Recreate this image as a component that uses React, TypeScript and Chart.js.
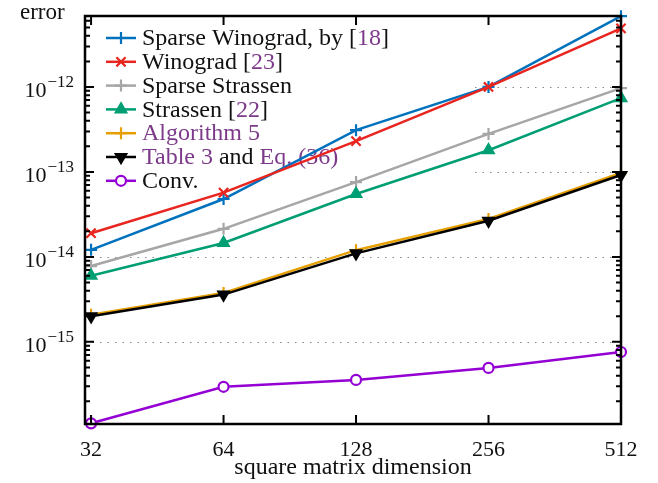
import { useEffect, useRef } from 'react';
import { Chart, registerables } from 'chart.js';
import { drawPoint } from 'chart.js/helpers';

Chart.register(...registerables);

const dims = [32, 64, 128, 256, 512];
const sparseWinograd = [1.21e-14, 4.8e-14, 3.1e-13, 1.0e-12, 6.8e-12];
const winograd = [1.9e-14, 5.7e-14, 2.3e-13, 1.0e-12, 4.9e-12];
const sparseStrassen = [7.8e-15, 2.14e-14, 7.6e-14, 2.8e-13, 9.7e-13];
const strassen = [6.0e-15, 1.46e-14, 5.5e-14, 1.8e-13, 7.4e-13];
const algorithm5 = [2.08e-15, 3.77e-15, 1.2e-14, 2.8e-14, 9.7e-14];
const table3 = [2.0e-15, 3.6e-15, 1.1e-14, 2.66e-14, 9.2e-14];
const conv = [1.1e-16, 2.96e-16, 3.57e-16, 4.94e-16, 7.6e-16];
const yTickExps = [-12, -13, -14, -15];

const BLACK = '#111111';
const CITE = '#7d3a8a';

type Seg = { t: string; c: string };
const legendLabels: Seg[][] = [
  [{ t: 'Sparse Winograd, by ', c: BLACK }, { t: '[', c: BLACK }, { t: '18', c: CITE }, { t: ']', c: BLACK }],
  [{ t: 'Winograd ', c: BLACK }, { t: '[', c: BLACK }, { t: '23', c: CITE }, { t: ']', c: BLACK }],
  [{ t: 'Sparse Strassen', c: BLACK }],
  [{ t: 'Strassen ', c: BLACK }, { t: '[', c: BLACK }, { t: '22', c: CITE }, { t: ']', c: BLACK }],
  [{ t: 'Algorithm 5', c: CITE }],
  [{ t: 'Table 3', c: CITE }, { t: ' and ', c: BLACK }, { t: 'Eq. (36)', c: CITE }],
  [{ t: 'Conv.', c: BLACK }],
];

const FONT = "'Liberation Serif', serif";

type S = { data: number[]; color: string; style: string; radius: number; rotation?: number; fill?: string };
const series: S[] = [
  { data: sparseWinograd, color: '#0072bd', style: 'cross', radius: 6 },
  { data: winograd, color: '#e8251f', style: 'crossRot', radius: 6.5 },
  { data: sparseStrassen, color: '#a6a6a6', style: 'cross', radius: 6 },
  { data: strassen, color: '#009e73', style: 'triangle', radius: 6 },
  { data: algorithm5, color: '#e69f00', style: 'cross', radius: 6 },
  { data: table3, color: '#000000', style: 'triangle', radius: 6, rotation: 180 },
  { data: conv, color: '#9400d3', style: 'circle', radius: 5, fill: '#ffffff' },
];

export default function App() {
  const ref = useRef<HTMLCanvasElement | null>(null);
  useEffect(() => {
    if (!ref.current) return;
    const N = series.length;
    const chart = new Chart(ref.current, {
      type: 'line',
      data: {
        labels: dims,
        datasets: series.map((s, i) => ({
          label: legendLabels[i].map((g) => g.t).join(''),
          data: dims.map((d, j) => ({ x: d, y: s.data[j] })),
          borderColor: s.color,
          backgroundColor: s.fill ?? s.color,
          pointBorderColor: s.color,
          pointBackgroundColor: s.fill ?? s.color,
          pointStyle: s.style as any,
          pointRadius: s.radius,
          pointRotation: s.rotation ?? 0,
          pointBorderWidth: 2.2,
          borderWidth: 2.5,
          tension: 0,
          clip: 8,
          order: N - i,
        })),
      },
      options: {
        animation: false,
        responsive: false,
        devicePixelRatio: 1,
        layout: { padding: { top: 16, right: 37, left: 0, bottom: 0 } },
        plugins: { legend: { display: false }, tooltip: { enabled: false } },
        scales: {
          x: {
            type: 'logarithmic',
            min: 31,
            max: 512,
            afterBuildTicks: (sc: any) => {
              sc.ticks = dims.map((v) => ({ value: v }));
            },
            afterFit: (sc: any) => {
              sc.height = 59;
            },
            ticks: {
              autoSkip: false,
              maxRotation: 0,
              padding: 5,
              color: BLACK,
              font: { family: FONT, size: 22 },
              callback: (v: any) => String(v),
            },
            grid: { display: false },
            border: { display: false },
            title: {
              display: true,
              text: 'square matrix dimension',
              color: BLACK,
              font: { family: FONT, size: 24 },
              padding: { top: 0, bottom: 1 },
            },
          },
          y: {
            type: 'logarithmic',
            min: 1.08e-16,
            max: 6.84e-12,
            afterFit: (sc: any) => {
              sc.width = 85;
            },
            ticks: { display: false },
            grid: { display: false },
            border: { display: false },
          },
        },
      },
      plugins: [
        {
          id: 'decor',
          beforeDatasetsDraw(c: any) {
            const ctx = c.ctx as CanvasRenderingContext2D;
            const { left, right, top } = c.chartArea;
            const ys = c.scales.y;
            ctx.save();
            ctx.strokeStyle = '#888888';
            ctx.lineWidth = 1;
            ctx.setLineDash([1.5, 6]);
            for (const e of yTickExps) {
              const y = Math.round(ys.getPixelForValue(10 ** e)) + 0.5;
              ctx.beginPath();
              ctx.moveTo(left, y);
              ctx.lineTo(right, y);
              ctx.stroke();
            }
            ctx.restore();
            ctx.save();
            ctx.fillStyle = '#ffffff';
            ctx.fillRect(left + 2, top + 2, 472 - left, 192 - top);
            ctx.font = `24px ${FONT}`;
            ctx.textBaseline = 'middle';
            series.forEach((s, i) => {
              const y = 38 + i * 23.8;
              ctx.strokeStyle = s.color;
              ctx.lineWidth = 2.5;
              ctx.beginPath();
              ctx.moveTo(106, y);
              ctx.lineTo(136, y);
              ctx.stroke();
              ctx.fillStyle = s.fill ?? s.color;
              ctx.lineWidth = 2.2;
              drawPoint(ctx, { pointStyle: s.style as any, radius: s.radius, rotation: s.rotation ?? 0, borderWidth: 2.2 } as any, 121, y);
              let x = 142;
              for (const g of legendLabels[i]) {
                ctx.fillStyle = g.c;
                ctx.fillText(g.t, x, y + 1);
                x += ctx.measureText(g.t).width;
              }
            });
            ctx.restore();
          },
          afterDatasetsDraw(c: any) {
            const ctx = c.ctx as CanvasRenderingContext2D;
            const { left, right, top, bottom } = c.chartArea;
            const xs = c.scales.x;
            const ys = c.scales.y;
            ctx.save();
            ctx.strokeStyle = '#000000';
            ctx.lineWidth = 2.5;
            ctx.strokeRect(left, top, right - left, bottom - top);
            ctx.lineWidth = 2;
            ctx.beginPath();
            for (const d of dims) {
              const x = xs.getPixelForValue(d);
              ctx.moveTo(x, bottom);
              ctx.lineTo(x, bottom - 9);
              ctx.moveTo(x, top);
              ctx.lineTo(x, top + 9);
            }
            for (let e = -17; e <= -11; e++) {
              for (let m = 1; m <= 9; m++) {
                const v = m * 10 ** e;
                if (v < ys.min || v > ys.max) continue;
                const y = ys.getPixelForValue(v);
                const len = m === 1 ? 9 : 5;
                ctx.moveTo(left, y);
                ctx.lineTo(left + len, y);
                ctx.moveTo(right, y);
                ctx.lineTo(right - len, y);
              }
            }
            ctx.stroke();
            ctx.restore();
          },
          afterDraw(c: any) {
            const ctx = c.ctx as CanvasRenderingContext2D;
            const ys = c.scales.y;
            ctx.save();
            ctx.fillStyle = BLACK;
            ctx.textBaseline = 'alphabetic';
            for (const e of yTickExps) {
              const y = ys.getPixelForValue(10 ** e);
              const sup = '\u2212' + String(-e);
              ctx.font = `22px ${FONT}`;
              const w10 = ctx.measureText('10').width;
              ctx.font = `17px ${FONT}`;
              const ws = ctx.measureText(sup).width;
              const xr = 74;
              ctx.fillText(sup, xr - ws, y + 0);
              ctx.font = `22px ${FONT}`;
              ctx.fillText('10', xr - ws - w10 - 1, y + 10);
            }
            ctx.font = `23px ${FONT}`;
            ctx.textBaseline = 'middle';
            ctx.fillText('error', 20, 13);
            ctx.restore();
          },
        },
      ],
    });
    return () => chart.destroy();
  }, []);
  return (
    <div style={{ position: 'fixed', left: 0, top: 0, width: 658, height: 483, background: '#fff' }}>
      <canvas ref={ref} width={658} height={483} style={{ width: 658, height: 483, display: 'block' }} />
    </div>
  );
}
